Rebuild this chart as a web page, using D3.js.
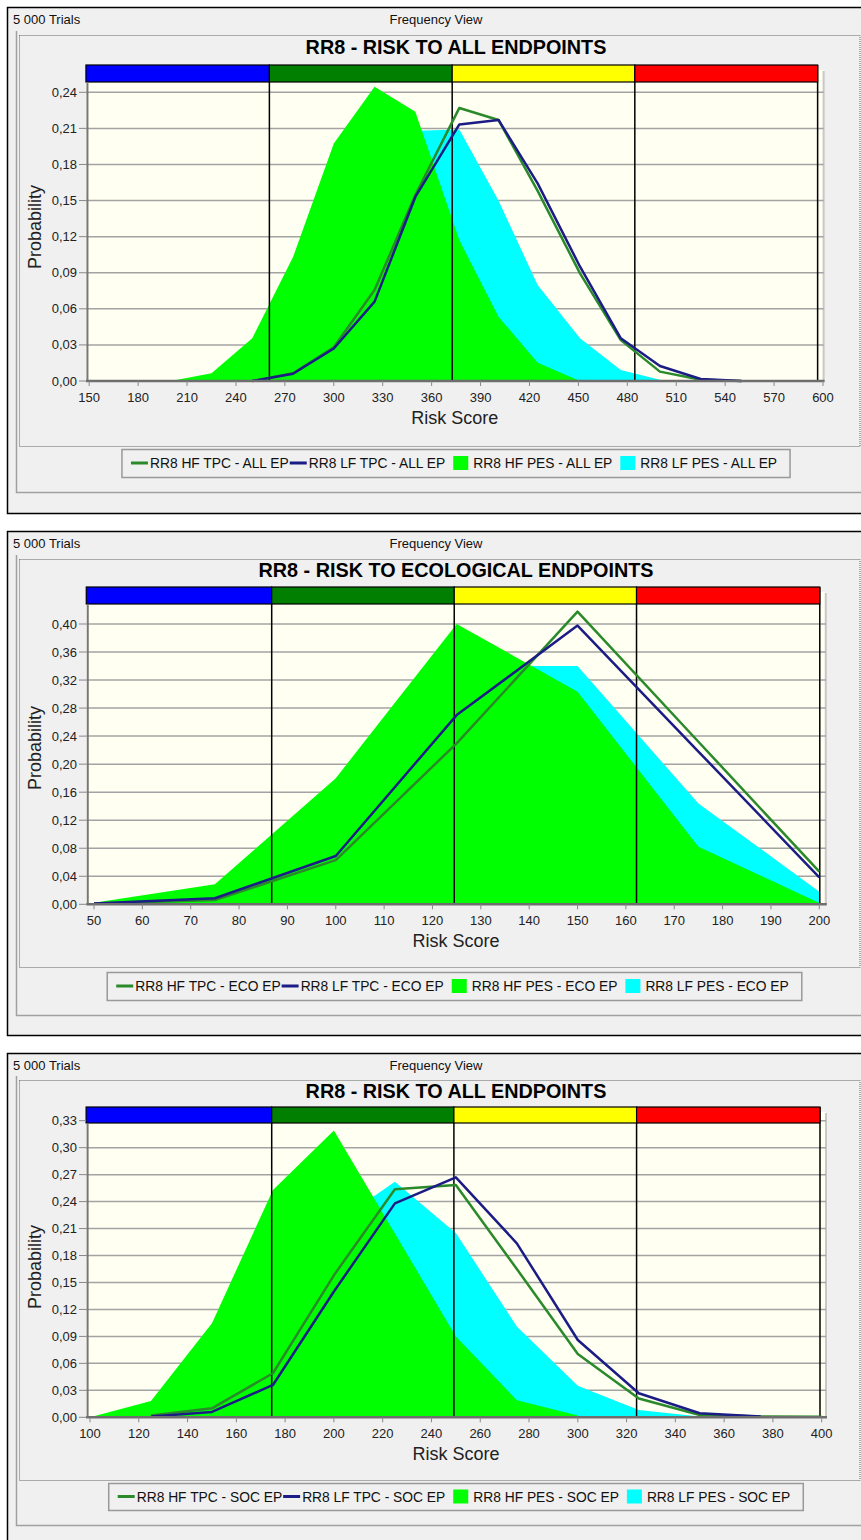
<!DOCTYPE html>
<html><head><meta charset="utf-8">
<script src="https://cdn.jsdelivr.net/npm/d3@7"></script>
<style>
body{margin:0;background:#fff;}
svg{display:block;font-family:Arial,"Liberation Sans",sans-serif;}
</style></head><body>
<svg id="c" width="861" height="1540"></svg>
<script>
// ---------- DATA ----------
const seriesNames = ["HF TPC", "LF TPC", "HF PES", "LF PES"];
const zoneColors = ["#0000ff", "#007f00", "#ffff00", "#ff0000"];

// Panel 1: RISK TO ALL ENDPOINTS
const p1Title = "RR8 - RISK TO ALL ENDPOINTS";
const p1Suffix = "ALL EP";
const p1XTicks = [150,180,210,240,270,300,330,360,390,420,450,480,510,540,570,600];
const p1YTicks = [0,0.03,0.06,0.09,0.12,0.15,0.18,0.21,0.24];
const p1Zones = [148, 260.5, 372.6, 484.6, 596.7];
const p1X     = [200, 225, 250, 275, 300, 325, 350, 377, 401, 425, 451, 476, 500, 525, 550];
const p1HfTpc = [null, null, 0, 0.0064, 0.028, 0.0756, 0.1546, 0.227, 0.217, 0.158, 0.0895, 0.034, 0.0078, 0.0011, 0];
const p1LfTpc = [null, null, 0, 0.006, 0.027, 0.066, 0.153, 0.2133, 0.217, 0.1643, 0.095, 0.0355, 0.0125, 0.0017, 0];
const p1HfPes = [0, 0.0064, 0.0355, 0.103, 0.1975, 0.2446, 0.2238, 0.117, 0.0535, 0.0152, 0, null, null, null, null];
const p1LfPes = [0, 0.001, 0.004, 0.02, 0.06, 0.13, 0.208, 0.209, 0.150, 0.0798, 0.0355, 0.0091, 0.001, null, null];

// Panel 2: RISK TO ECOLOGICAL ENDPOINTS
const p2Title = "RR8 - RISK TO ECOLOGICAL ENDPOINTS";
const p2Suffix = "ECO EP";
const p2XTicks = [50,60,70,80,90,100,110,120,130,140,150,160,170,180,190,200];
const p2YTicks = [0,0.04,0.08,0.12,0.16,0.20,0.24,0.28,0.32,0.36,0.40];
const p2Zones = [48.4, 86.75, 124.5, 162.2, 200.1];
const p2X     = [50, 75, 100, 125, 150, 175, 200];
const p2HfTpc = [0.001, 0.006, 0.063, 0.2297, 0.4176, 0.232, 0.0466];
const p2LfTpc = [0.001, 0.0086, 0.069, 0.270, 0.3977, 0.218, 0.0385];
const p2HfPes = [0.0023, 0.0285, 0.18, 0.40, 0.3034, 0.082, 0.002];
const p2LfPes = [0.001, 0.008, 0.09, 0.34, 0.340, 0.144, 0.018];

// Panel 3: RISK TO ALL ENDPOINTS (SOC EP)
const p3Title = "RR8 - RISK TO ALL ENDPOINTS";
const p3Suffix = "SOC EP";
const p3XTicks = [100,120,140,160,180,200,220,240,260,280,300,320,340,360,380,400];
const p3YTicks = [0,0.03,0.06,0.09,0.12,0.15,0.18,0.21,0.24,0.27,0.30,0.33];
const p3Zones = [98.4, 174.5, 249.2, 324.1, 399.3];
const p3X     = [100, 125, 150, 175, 200, 225, 250, 275, 300, 325, 350, 375, 400];
const p3HfTpc = [null, 0.002, 0.010, 0.049, 0.158, 0.2537, 0.2585, 0.165, 0.0704, 0.021, 0.0025, 0.001, 0.0005];
const p3LfTpc = [null, 0.001, 0.006, 0.036, 0.14, 0.238, 0.267, 0.1936, 0.086, 0.0267, 0.0045, 0.001, null];
const p3HfPes = [0, 0.018, 0.1046, 0.253, 0.319, 0.2045, 0.09, 0.019, 0.002, null, null, null, null];
const p3LfPes = [0, 0.001, 0.006, 0.10, 0.215, 0.262, 0.205, 0.101, 0.035, 0.008, 0.001, null, null];

const trialsLabel = "5 000 Trials";
const viewLabel = "Frequency View";
const xAxisLabel = "Risk Score";
const yAxisLabel = "Probability";

// ---------- STYLE / LAYOUT ----------
const colors = {hfTpc: "#2a8a2a", lfTpc: "#1c1c86", hfPes: "#00ff00", lfPes: "#00ffff"};
const layouts = [
  {top: 7, bottom: 513, zoneTop: 65, zoneBottom: 82, axisY: 381, yTopPx: 92.3, xPx: [89.2, 823],
   titleY: 54, legendTop: 449, legendBottom: 477, legendCx: 456, grayBottom: 492, dottedTop: 35, dottedBottom: 446, probY: 227},
  {top: 531, bottom: 1035, zoneTop: 587, zoneBottom: 604, axisY: 904.3, yTopPx: 624, xPx: [94, 819.3],
   titleY: 577, legendTop: 972, legendBottom: 1000, legendCx: 454.5, grayBottom: 1015, dottedTop: 559, dottedBottom: 967, probY: 748},
  {top: 1053, bottom: 1580, zoneTop: 1107, zoneBottom: 1123, axisY: 1417.3, yTopPx: 1120.7, xPx: [90, 821.7],
   titleY: 1098, legendTop: 1483, legendBottom: 1510, legendCx: 456, grayBottom: 1525, dottedTop: 1080, dottedBottom: 1480, probY: 1267}
];

const panels = [
  {title: p1Title, suffix: p1Suffix, xTicks: p1XTicks, yTicks: p1YTicks, zones: p1Zones, x: p1X,
   hfTpc: p1HfTpc, lfTpc: p1LfTpc, hfPes: p1HfPes, lfPes: p1LfPes, L: layouts[0]},
  {title: p2Title, suffix: p2Suffix, xTicks: p2XTicks, yTicks: p2YTicks, zones: p2Zones, x: p2X,
   hfTpc: p2HfTpc, lfTpc: p2LfTpc, hfPes: p2HfPes, lfPes: p2LfPes, L: layouts[1]},
  {title: p3Title, suffix: p3Suffix, xTicks: p3XTicks, yTicks: p3YTicks, zones: p3Zones, x: p3X,
   hfTpc: p3HfTpc, lfTpc: p3LfTpc, hfPes: p3HfPes, lfPes: p3LfPes, L: layouts[2]}
];

const svg = d3.select("#c");
const fmt = v => d3.format(".2f")(v).replace(".", ",");

panels.forEach(drawPanel);

function pts(xs, vs) {
  return xs.map((x, i) => ({x: x, v: vs[i]})).filter(d => d.v !== null);
}

function drawPanel(P) {
  const L = P.L;
  const g = svg.append("g");
  // outer box
  g.append("rect").attr("x", 7.5).attr("y", L.top + 0.5).attr("width", 880).attr("height", L.bottom - L.top)
    .attr("fill", "#f0f0f0").attr("stroke", "#000").attr("stroke-width", 1.5);
  g.append("text").attr("x", 13).attr("y", L.top + 17).attr("font-size", 13).attr("fill", "#111").text(trialsLabel);
  g.append("text").attr("x", 436).attr("y", L.top + 17).attr("font-size", 13).attr("fill", "#111")
    .attr("text-anchor", "middle").text(viewLabel);
  // gray inner box
  g.append("path").attr("d", `M16.5,${L.dottedTop - 4} V${L.grayBottom + 0.5} H880`)
    .attr("fill", "none").attr("stroke", "#a0a0a0").attr("stroke-width", 1.5);
  // dotted frame
  g.append("rect").attr("x", 19.5).attr("y", L.dottedTop + 0.5).attr("width", 840.5).attr("height", L.dottedBottom - L.dottedTop)
    .attr("fill", "none").attr("stroke", "#666").attr("stroke-dasharray", "1,1");
  // title
  g.append("text").attr("x", 456).attr("y", L.titleY).attr("text-anchor", "middle")
    .attr("font-size", 19.8).attr("font-weight", "bold").attr("fill", "#000").text(P.title);

  const x = d3.scaleLinear().domain([P.xTicks[0], P.xTicks[P.xTicks.length - 1]]).range(L.xPx);
  const y = d3.scaleLinear().domain([0, P.yTicks[P.yTicks.length - 1]]).range([L.axisY, L.yTopPx]);
  const left = x(P.zones[0]), right = x(P.zones[P.zones.length - 1]);
  const wallR = right + 6;

  // back wall
  g.append("rect").attr("x", left).attr("y", L.zoneTop + 5).attr("width", wallR - left).attr("height", L.axisY - L.zoneTop - 5)
    .attr("fill", "#fffff2");
  g.append("line").attr("x1", wallR).attr("x2", wallR).attr("y1", L.zoneTop + 6).attr("y2", L.axisY)
    .attr("stroke", "#c8c8c8").attr("stroke-width", 2);
  // grid
  g.selectAll(".grid").data(P.yTicks.slice(1)).enter().append("line")
    .attr("x1", left).attr("x2", wallR).attr("y1", d => y(d)).attr("y2", d => y(d))
    .attr("stroke", "#a3a3a3").attr("stroke-width", 1.5);

  // areas
  const area = d3.area().x(d => x(d.x)).y0(y(0)).y1(d => y(d.v));
  g.append("path").attr("d", area(pts(P.x, P.lfPes))).attr("fill", colors.lfPes);
  g.append("path").attr("d", area(pts(P.x, P.hfPes))).attr("fill", colors.hfPes);

  // zone separators
  g.selectAll(".zl").data(P.zones.slice(1)).enter().append("line")
    .attr("x1", d => x(d)).attr("x2", d => x(d)).attr("y1", L.zoneTop).attr("y2", L.axisY)
    .attr("stroke", "#000").attr("stroke-width", 1.5);

  // lines
  const line = d3.line().x(d => x(d.x)).y(d => y(d.v));
  g.append("path").attr("d", line(pts(P.x, P.hfTpc))).attr("fill", "none")
    .attr("stroke", colors.hfTpc).attr("stroke-width", 2.5).attr("stroke-linejoin", "round");
  g.append("path").attr("d", line(pts(P.x, P.lfTpc))).attr("fill", "none")
    .attr("stroke", colors.lfTpc).attr("stroke-width", 2.5).attr("stroke-linejoin", "round");

  // zone bar
  const zoneData = d3.range(P.zones.length - 1).map(i => ({a: P.zones[i], b: P.zones[i + 1], c: zoneColors[i]}));
  g.selectAll(".zb").data(zoneData).enter().append("rect")
    .attr("x", d => x(d.a)).attr("width", d => x(d.b) - x(d.a))
    .attr("y", L.zoneTop).attr("height", L.zoneBottom - L.zoneTop)
    .attr("fill", d => d.c).attr("stroke", "#000").attr("stroke-width", 1.2);

  // left axis
  g.append("line").attr("x1", left + 1.5).attr("x2", left + 1.5).attr("y1", L.zoneBottom).attr("y2", L.axisY)
    .attr("stroke", "#777").attr("stroke-width", 2);
  // bottom axis
  g.append("line").attr("x1", left).attr("x2", wallR + 1).attr("y1", L.axisY).attr("y2", L.axisY)
    .attr("stroke", "#6e6e6e").attr("stroke-width", 2.5);
  // x ticks
  g.selectAll(".xt").data(P.xTicks).enter().append("line")
    .attr("x1", d => x(d)).attr("x2", d => x(d)).attr("y1", L.axisY).attr("y2", L.axisY + 5)
    .attr("stroke", "#888").attr("stroke-width", 1);
  g.selectAll(".xl").data(P.xTicks).enter().append("text")
    .attr("x", d => x(d)).attr("y", L.axisY + 21).attr("text-anchor", "middle")
    .attr("font-size", 13).attr("fill", "#222").text(d => d);
  // y ticks
  g.selectAll(".yt").data(P.yTicks).enter().append("line")
    .attr("x1", 79).attr("x2", left).attr("y1", d => y(d)).attr("y2", d => y(d))
    .attr("stroke", "#888").attr("stroke-width", 1);
  g.selectAll(".yl").data(P.yTicks).enter().append("text")
    .attr("x", 77).attr("y", d => y(d) + 4.5).attr("text-anchor", "end")
    .attr("font-size", 13).attr("fill", "#222").text(d => fmt(d));
  // axis titles
  g.append("text").attr("x", (left + right) / 2 + 3).attr("y", L.axisY + 43).attr("text-anchor", "middle")
    .attr("font-size", 18).attr("fill", "#222").text(xAxisLabel);
  g.append("text").attr("transform", `translate(41,${L.probY}) rotate(-90)`).attr("text-anchor", "middle")
    .attr("font-size", 18).attr("fill", "#222").text(yAxisLabel);

  // legend
  const lgBox = g.append("rect");
  const lg = g.append("g");
  const cy = (L.legendTop + L.legendBottom) / 2;
  const items = [
    {t: "line", c: colors.hfTpc, label: "RR8 " + seriesNames[0] + " - " + P.suffix},
    {t: "line", c: colors.lfTpc, label: "RR8 " + seriesNames[1] + " - " + P.suffix},
    {t: "box", c: colors.hfPes, label: "RR8 " + seriesNames[2] + " - " + P.suffix},
    {t: "box", c: colors.lfPes, label: "RR8 " + seriesNames[3] + " - " + P.suffix}
  ];
  let cx = 0;
  items.forEach(it => {
    if (it.t === "line") {
      lg.append("line").attr("x1", cx).attr("x2", cx + 17).attr("y1", cy).attr("y2", cy)
        .attr("stroke", it.c).attr("stroke-width", 3);
      cx += 19;
    } else {
      cx += 7;
      lg.append("rect").attr("x", cx).attr("y", cy - 7).attr("width", 15).attr("height", 14).attr("fill", it.c);
      cx += 20;
    }
    const tx = lg.append("text").attr("x", cx).attr("y", cy + 5).attr("font-size", 13.8).attr("fill", "#111").text(it.label);
    cx += tx.node().getComputedTextLength() + 1;
  });
  const total = cx;
  const padL = 9, padR = 12;
  const boxW = total + padL + padR;
  const boxX = L.legendCx - boxW / 2;
  lg.attr("transform", `translate(${boxX + padL},0)`);
  lgBox.attr("x", boxX).attr("y", L.legendTop + 0.5).attr("width", boxW).attr("height", L.legendBottom - L.legendTop)
    .attr("fill", "#f0f0f0").attr("stroke", "#999").attr("stroke-width", 1.5);
}
</script>
</body></html>
